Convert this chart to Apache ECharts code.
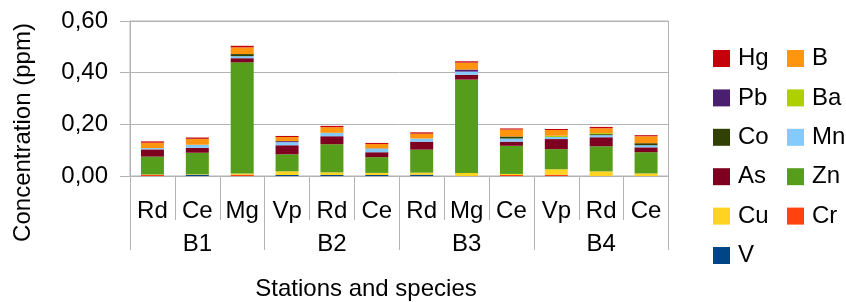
<!DOCTYPE html>
<html><head><meta charset="utf-8">
<script src="https://cdn.jsdelivr.net/npm/echarts@6/dist/echarts.min.js"></script>
<style>html,body{margin:0;padding:0;background:#fff;}#c{width:846px;height:302px;}</style>
</head><body><div id="c"></div>
<script>
const categories = ['Rd','Ce','Mg','Vp','Rd','Ce','Rd','Mg','Ce','Vp','Rd','Ce'];
const stations = ['B1','B2','B3','B4'];
const yTicks = [0, 0.2, 0.4, 0.6];
const seriesNames = ['V','Cr','Cu','Zn','As','Mn','Co','Ba','Pb','B','Hg'];
const colors = ['#004586','#ff420e','#ffd320','#579d1c','#7e0021','#83caff','#314004','#aecf00','#4b1f6f','#ff950e','#c5000b'];
const V  = [0, 0.005, 0, 0.004, 0.004, 0.004, 0.005, 0, 0, 0, 0, 0];
const Cr = [0.005, 0, 0.005, 0, 0, 0, 0, 0, 0.004, 0.005, 0, 0];
const Cu = [0.001, 0.002, 0.005, 0.014, 0.010, 0.008, 0.008, 0.012, 0.004, 0.021, 0.018, 0.010];
const Zn = [0.069, 0.083, 0.430, 0.066, 0.109, 0.061, 0.089, 0.361, 0.109, 0.078, 0.097, 0.082];
const As = [0.028, 0.019, 0.016, 0.035, 0.031, 0.019, 0.031, 0.019, 0.016, 0.039, 0.035, 0.019];
const Mn = [0.005, 0.012, 0.008, 0.012, 0.013, 0.014, 0.012, 0.012, 0.012, 0.008, 0.008, 0.008];
const Co = [0, 0, 0.008, 0, 0, 0.001, 0, 0, 0.008, 0, 0.004, 0.008];
const Ba = [0, 0, 0, 0, 0, 0, 0, 0, 0, 0.005, 0.004, 0];
const Pb = [0, 0, 0, 0.004, 0, 0, 0, 0.008, 0, 0, 0, 0];
const B  = [0.021, 0.023, 0.026, 0.016, 0.022, 0.017, 0.019, 0.027, 0.027, 0.022, 0.019, 0.027];
const Hg = [0.005, 0.005, 0.006, 0.004, 0.005, 0.004, 0.005, 0.005, 0.004, 0.004, 0.005, 0.004];
const values = {V, Cr, Cu, Zn, As, Mn, Co, Ba, Pb, B, Hg};
const legendLeft = ['Hg','Pb','Co','As','Cu','V'];
const legendRight = ['B','Ba','Mn','Zn','Cr'];

const FONT = 'Liberation Sans';
const GRAY = '#b3b3b3';
const chart = echarts.init(document.getElementById('c'), null, {renderer: 'canvas'});
const legendCommon = {
  orient: 'vertical', icon: 'rect', itemWidth: 17, itemHeight: 17, itemGap: 15.4,
  selectedMode: false, padding: 0,
  textStyle: {fontFamily: FONT, fontSize: 24, color: '#000', lineHeight: 24, padding: [0,0,0,3]}
};
chart.setOption({
  animation: false,
  color: colors,
  textStyle: {fontFamily: FONT},
  grid: {left: 130, top: 21, width: 538.5, height: 155, show: true, borderColor: GRAY, borderWidth: 1, containLabel: false},
  legend: [
    Object.assign({left: 713, top: 46.5, data: legendLeft}, legendCommon),
    Object.assign({left: 787, top: 46.5, data: legendRight}, legendCommon)
  ],
  xAxis: [
    {type: 'category', data: categories, position: 'bottom', offset: 0,
     axisLine: {show: true, lineStyle: {color: GRAY}},
     axisTick: {show: true, length: 44, interval: 0, lineStyle: {color: GRAY, width: 1}},
     axisLabel: {show: true, interval: 0, margin: 23, fontSize: 24, color: '#000', fontFamily: FONT}},
    {type: 'category', data: stations, position: 'bottom', offset: 0,
     axisLine: {show: false},
     axisTick: {show: true, length: 74, interval: 0, lineStyle: {color: GRAY, width: 1}},
     axisLabel: {show: true, interval: 0, margin: 56, fontSize: 24, color: '#000', fontFamily: FONT}}
  ],
  yAxis: {type: 'value', min: yTicks[0], max: yTicks[yTicks.length-1], interval: 0.2,
    axisLine: {show: true, lineStyle: {color: GRAY}},
    axisTick: {show: true, length: 10, lineStyle: {color: GRAY}},
    splitLine: {show: true, lineStyle: {color: GRAY}},
    axisLabel: {margin: 22, fontSize: 24, color: '#000', fontFamily: FONT,
      formatter: v => v.toFixed(2).replace('.', ',')}},
  graphic: [
    {type: 'text', x: 23.5, y: 132.5, rotation: Math.PI/2,
     style: {text: 'Concentration (ppm)', fontFamily: FONT, fontSize: 24, fill: '#000', textAlign: 'center', textVerticalAlign: 'middle'}},
    {type: 'text', x: 366, y: 289, 
     style: {text: 'Stations and species', fontFamily: FONT, fontSize: 24, fill: '#000', textAlign: 'center', textVerticalAlign: 'middle'}}
  ],
  series: seriesNames.map(n => ({
    name: n, type: 'bar', stack: 'total', barWidth: 23, xAxisIndex: 0,
    data: values[n]
  }))
});
</script></body></html>
